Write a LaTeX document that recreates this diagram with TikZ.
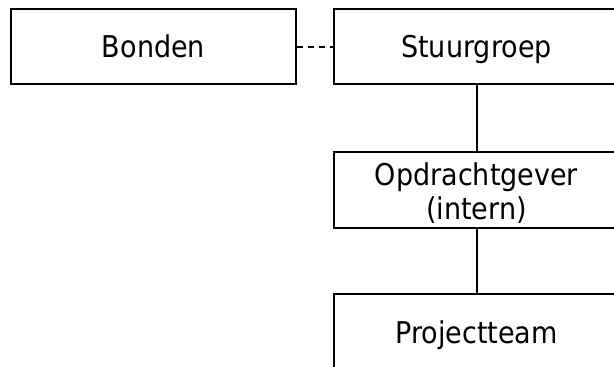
\documentclass[tikz,border=0pt]{standalone}
\usepackage{fontspec}
\setmainfont{DejaVu Sans}[FakeStretch=0.9]
\begin{document}
\begin{tikzpicture}[x=1pt,y=-1pt]
\useasboundingbox (0,0) rectangle (614,367);
\tikzset{
  boxbase/.style={draw, line width=2pt, minimum width=285pt, minimum height=75pt,
    inner sep=0pt, anchor=north west, font=\fontsize{30}{34}\selectfont, align=center},
  box/.style={boxbase, text height=22pt, text depth=0pt},
  link/.style={line width=2pt},
  dashlink/.style={line width=2pt, dash pattern=on 6pt off 5pt}
}
\node[box] (bonden) at (10,8) {Bonden};
\node[box] (stuur) at (333,8) {Stuurgroep};
\node[boxbase, minimum height=76pt] (opdr) at (333,151) {\rule{0pt}{29pt}Opdrachtgever\\(intern)};
\node[box, minimum height=76pt] (proj) at (333,293) {Projectteam};
\draw[dashlink] (bonden) -- (stuur);
\draw[link] (stuur) -- (opdr);
\draw[link] (opdr) -- (proj);
\end{tikzpicture}
\end{document}
